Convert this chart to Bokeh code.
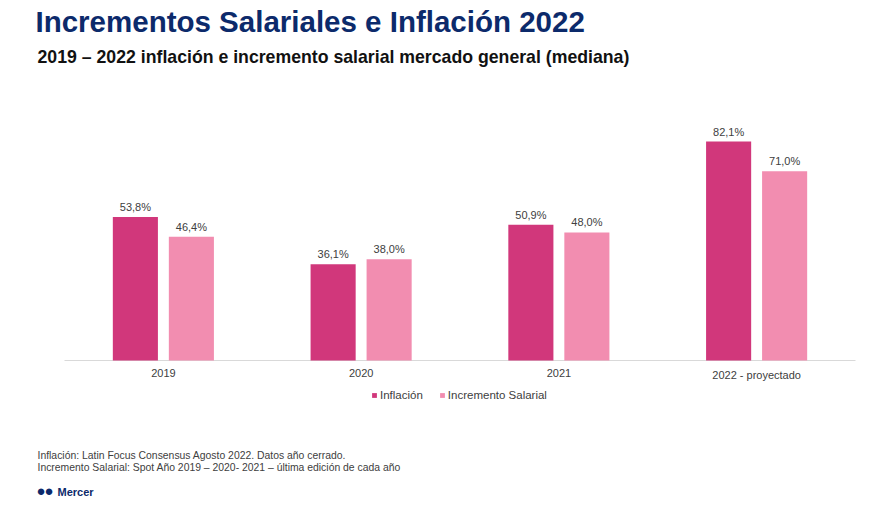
from bokeh.plotting import figure
from bokeh.models import ColumnDataSource, Label, Legend, LegendItem, Range1d
from bokeh.embed import file_html
from bokeh.resources import INLINE
from bokeh.core.properties import value

categories = ["2019", "2020", "2021", "2022 - proyectado"]
inflacion = [53.8, 36.1, 50.9, 82.1]
salarial = [46.4, 38.0, 48.0, 71.0]
series_names = ["Inflación", "Incremento Salarial"]

title_text = "Incrementos Salariales e Inflación 2022"
subtitle_text = "2019 – 2022 inflación e incremento salarial mercado general (mediana)"
note1 = "Inflación: Latin Focus Consensus Agosto 2022. Datos año cerrado."
note2 = "Incremento Salarial: Spot Año 2019 – 2020- 2021 – última edición de cada año"

C_INF = "#d1377b"
C_SAL = "#f28db0"
NAVY = "#0c2a6b"
FONT = "Liberation Sans"

def fmt(v):
    return f"{v:.1f}".replace(".", ",") + "%"

# layout constants (page pixels)
W, H = 871, 499
PLOT_L, PLOT_R, BASE_Y, PX_PER_UNIT = 64, 855, 360, 2.667
U = (PLOT_R - PLOT_L) / len(categories)

xs = [i + 0.5 for i in range(len(categories))]
off, bw = 0.1416, 0.228
src = ColumnDataSource(dict(
    xi=[x - off for x in xs], xs_=[x + off for x in xs], xc=xs, cat=categories,
    inf=inflacion, sal=salarial,
    inf_lbl=[fmt(v) for v in inflacion], sal_lbl=[fmt(v) for v in salarial],
))

x0 = -PLOT_L / U
y1 = BASE_Y / PX_PER_UNIT
p = figure(width=W, height=H, min_border=0,
           x_range=Range1d(x0, x0 + W / U), y_range=Range1d(y1 - H / PX_PER_UNIT, y1),
           output_backend="svg", toolbar_location=None)
p.outline_line_color = None
p.background_fill_color = "white"
p.border_fill_color = "white"
p.grid.visible = False
p.axis.visible = False

# baseline
p.segment(x0=[0], y0=[0], x1=[len(categories)], y1=[0], line_color="#d9d9d9", line_width=1)

r1 = p.vbar(x="xi", top="inf", width=bw, source=src, fill_color=C_INF, line_color=None)
r2 = p.vbar(x="xs_", top="sal", width=bw, source=src, fill_color=C_SAL, line_color=None)

for xcol, col, lbl in (("xi", "inf", "inf_lbl"), ("xs_", "sal", "sal_lbl")):
    p.text(x=xcol, y=col, text=lbl, source=src,
           text_align="center", text_baseline="bottom", y_offset=-4,
           text_font=value(FONT), text_font_size="11px", text_color="#404040")

# category labels
p.text(x="xc", y=0, text="cat", source=src, text_align="center", text_baseline="top", y_offset=8,
       text_font=value(FONT), text_font_size="11px", text_color="#404040")

legend = Legend(items=[LegendItem(label=series_names[0], renderers=[r1]),
                       LegendItem(label=series_names[1], renderers=[r2])],
                orientation="horizontal", location=(371, H - 401),
                label_text_font=FONT, label_text_font_size="11.5px", label_text_color="#404040",
                glyph_width=6, glyph_height=6, label_standoff=3, spacing=16,
                padding=4, margin=0, border_line_color=None, background_fill_alpha=0)
p.add_layout(legend)

def lab(px, py_top, text, size, color, style="normal"):
    p.add_layout(Label(x=px, y=H - py_top, x_units="screen", y_units="screen", text=text,
                       text_font=FONT, text_font_size=size, text_color=color,
                       text_font_style=style, text_baseline="top", text_align="left"))

lab(35, 4, title_text, "29.5px", NAVY, "bold")
lab(37, 46.5, subtitle_text, "17.7px", "#111111", "bold")
lab(37, 449.6, note1, "10.4px", "#404040")
lab(37, 461.6, note2, "10.4px", "#404040")
lab(36, 481, "●", "15px", NAVY)
lab(44, 481, "●", "15px", NAVY)
lab(57, 485, "Mercer", "11px", NAVY, "bold")

open("out.html", "w").write(file_html(p, INLINE))
